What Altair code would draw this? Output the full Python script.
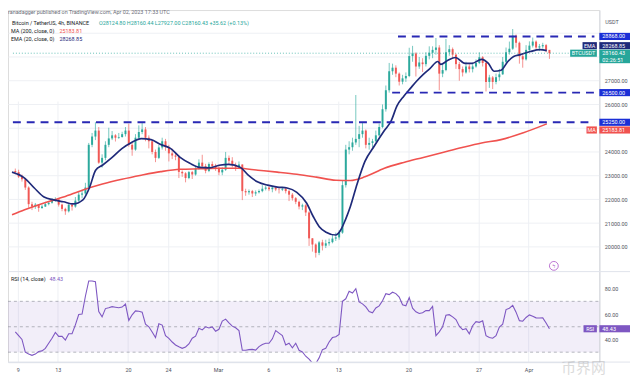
import altair as alt
import pandas as pd

FONT = "Roboto"

# ---------------- data (8h candles, Feb 8 08:00 -> Apr 2 16:00 UTC) ----------------
first_open = 23200
close = [23150, 22960,
         22850, 22500, 21800, 21700, 21780, 21640, 21700, 21800, 21860, 21950, 22000, 21780,
         21600, 21500, 21780, 21700, 21950, 22200, 22250, 22500, 24300, 24650, 24900, 23550,
         23750, 24300, 24570, 24700, 24600, 24630, 24750, 24900, 24300, 24100, 24600, 24840,
         24950, 24600, 24450, 24000, 23750, 24190, 24450, 24200, 23940, 23850, 23800, 23160,
         23100, 22900, 23150, 23050, 23300, 23550, 23400, 23200, 23490, 23400, 23300, 23140,
         23250, 23750, 23630, 23450, 23350, 23470, 22350, 22300, 22350, 22250, 22300, 22350,
         22450, 22500, 22430, 22500, 22420, 22410, 22450, 22350, 22200, 22050, 21900, 21700,
         21750, 21450, 20360, 20100, 19750, 20190, 20050, 20150, 20200, 20350, 20400, 20600,
         22600, 24100, 24200, 24400, 24550, 24750, 24900, 24300, 24380, 24450, 24700, 25050,
         25800, 26600, 27400, 27550, 27300, 26960, 27100, 27200, 28040, 28150, 27600, 27770,
         27700, 28050, 28180, 28300, 28400, 27300, 27450, 28200, 28330, 28100, 27700, 27490,
         27350, 27600, 27490, 27600, 27750, 27990, 27750, 26950, 27140, 26950, 27150, 27270,
         27800, 28200, 28350, 28900, 28600, 28030, 27900, 28300, 28480, 28650, 28400, 28450,
         28500, 28300, 28160]
high = [23300, 23250,
        23050, 22900, 22550, 21900, 21850, 21800, 21780, 21900, 21920, 22050, 22090, 22020,
        21820, 21650, 21850, 21850, 22100, 22320, 22400, 22700, 24380, 24800, 25250, 25050,
        23900, 24450, 25020, 24880, 24750, 24800, 24850, 25050, 25190, 24400, 24750, 25120,
        25250, 25050, 24700, 24480, 24100, 24300, 24600, 24550, 24300, 24140, 23950, 23850,
        23220, 23150, 23200, 23200, 23400, 23690, 23880, 23500, 23560, 23600, 23500, 23400,
        23350, 24000, 23850, 23780, 23550, 23600, 23480, 22450, 22420, 22400, 22380, 22420,
        22600, 22580, 22550, 22560, 22550, 22500, 22530, 22480, 22400, 22270, 22100, 21950,
        21820, 21800, 21500, 20370, 20150, 20250, 20300, 20300, 20350, 20500, 20600, 20700,
        22800, 24300, 24450, 24600, 26400, 25100, 25250, 24950, 24600, 24550, 24900, 25200,
        26000, 26800, 27750, 27720, 27650, 27350, 27250, 27350, 28390, 28470, 28200, 28000,
        27950, 28200, 28450, 28450, 28800, 28500, 27700, 28760, 28500, 28400, 28150, 27800,
        27600, 27800, 27700, 27750, 27900, 28200, 28040, 27800, 27250, 27200, 27300, 27500,
        28000, 28400, 28650, 29180, 28950, 28650, 28150, 28500, 28660, 28820, 28700, 28550,
        28600, 28550, 28300]
low = [23050, 22900,
       22750, 22400, 21650, 21550, 21600, 21480, 21600, 21680, 21750, 21820, 21900, 21700,
       21500, 21350, 21450, 21530, 21650, 21900, 22050, 22150, 22450, 24200, 24500, 23500,
       23340, 23650, 24200, 24500, 24440, 24550, 24600, 24650, 24220, 23840, 24050, 24550,
       24750, 24450, 24150, 23900, 23570, 23700, 24100, 24050, 23600, 23700, 23650, 22900,
       22950, 22720, 22850, 22860, 23000, 23250, 23300, 23100, 23150, 23300, 23200, 23020,
       23020, 23200, 23450, 23350, 23200, 23300, 21970, 22150, 22200, 22100, 22150, 22250,
       22300, 22380, 22350, 22300, 22350, 22250, 22350, 22250, 21930, 21950, 21800, 21580,
       21550, 21300, 20040, 19800, 19550, 19650, 19850, 19950, 20050, 20150, 20250, 20300,
       20550, 22500, 23900, 24050, 24300, 24200, 24600, 24150, 24100, 24200, 24400, 24650,
       25000, 25700, 26500, 27250, 27150, 26800, 26850, 26950, 27150, 27800, 27180, 27500,
       27370, 27600, 27900, 27950, 28100, 26600, 27150, 27400, 28050, 27950, 27500, 27000,
       27180, 27300, 27350, 27350, 27550, 27700, 27600, 26550, 26700, 26650, 26850, 27000,
       27250, 27750, 28100, 28300, 28400, 27720, 27550, 27850, 28250, 28400, 28300, 28250,
       28350, 28200, 27920]
rsi = [46, 43, 40, 30, 28.5, 27.5, 28.5, 30.5, 31, 33,
       37, 41, 45.5, 42.4, 42.5, 39.5, 44.5, 44.5, 51.5, 59.6,
       60, 74, 86, 86, 85.4, 62, 57.8, 64.3, 65, 65.8,
       65.4, 65, 65.5, 67.8, 55, 59.4, 62.5, 62.2, 61.5, 52,
       50, 45.9, 41.5, 52.3, 51.3, 43, 40.8, 38, 35.7, 34.2,
       33, 34.1, 36.5, 41, 42.6, 48.8, 47.5, 50, 49, 49.9,
       46.5, 48, 54.5, 56, 53, 50.5, 49.2, 47, 31.5, 31.5,
       32, 32.2, 31.6, 34.4, 36, 37, 37, 40.5, 47, 45,
       43, 35.6, 37, 33.5, 37, 31.5, 30.2, 26.8, 24.5, 21.5,
       21, 25.5, 32, 33, 38, 41.5, 42.2, 44, 70, 72,
       78, 76.5, 80, 69.5, 68, 65.6, 62, 61, 64.8, 66.4,
       70.5, 76, 75.3, 77.2, 76.1, 73.4, 67.3, 66.5, 73, 64.6,
       61.8, 60.4, 61, 62.7, 62.7, 66, 43, 46, 50, 59,
       59.5, 57.8, 55.7, 50.5, 47.7, 48.5, 44.5, 50.8, 54, 53.5,
       54.7, 43, 41.5, 41, 43, 49.7, 52, 63.5, 64.6, 66.8,
       61.5, 54.8, 54.4, 57.3, 59.3, 58.2, 57, 56.9, 57, 53,
       48.43]

# indicator lines (days since Mar 1 00:00 UTC, value)
ema_day = [-20.58, -19.32, -18.35, -17.38, -16.41, -15.44, -14.47, -13.50, -12.82, -12.23,
           -11.55, -10.58, -9.61, -8.64, -7.67, -6.70, -5.73, -4.76, -3.79, -2.82,
           -1.84, -0.87, 0.10, 1.07, 2.23, 3.01, 3.98, 4.95, 5.92, 6.89,
           7.86, 8.83, 9.51, 10.10, 10.78, 11.75, 12.23, 12.72, 13.20, 13.88,
           14.66, 15.63, 16.60, 17.28, 17.86, 18.54, 19.22, 19.81, 20.49, 21.17,
           21.94, 22.23, 22.91, 23.69, 24.66, 25.34, 26.31, 26.99, 27.57, 28.25,
           28.93, 29.51, 30.19, 31.17, 32.14, 32.82]
ema_val = [23150, 22900, 22480, 22100, 21980, 21900, 21810, 21980, 22520, 23230,
           23440, 23770, 24140, 24400, 24560, 24520, 24310, 24150, 23770, 23520,
           23350, 23330, 23440, 23480, 23350, 23020, 22730, 22600, 22520, 22480,
           22300, 21850, 21270, 20850, 20620, 20500, 20700, 21150, 21690, 22650,
           23600, 24270, 24900, 25310, 25940, 26350, 26690, 26980, 27270, 27520,
           27810, 27690, 27850, 27980, 27730, 27730, 27900, 27730, 27400, 27440,
           27810, 28020, 28100, 28230, 28310, 28268.85]
ma_day = [-20.58, -19.32, -17.38, -15.44, -13.50, -11.55, -9.61, -7.67, -5.73, -3.79,
          -1.84, 0.10, 2.04, 3.98, 5.92, 7.86, 9.81, 11.75, 13.20, 14.66,
          16.60, 18.54, 20.49, 22.43, 24.37, 26.31, 28.25, 30.49, 32.82]
ma_val = [21350, 21560, 21850, 22100, 22400, 22650, 22850, 23020, 23170, 23270,
          23290, 23310, 23310, 23230, 23150, 23060, 22940, 22810, 22800, 22950,
          23310, 23560, 23770, 23980, 24190, 24380, 24520, 24810, 25183.81]

tick_day = [-20, -16, -9, -5, 0, 5, 12, 19, 26, 31]
tick_text = ["9", "13", "20", "24", "Mar", "6", "13", "20", "27", "Apr"]
price_grid = [20000, 21000, 22000, 23000, 24000, 25000, 26000, 27000, 28000, 29000]
price_hidden = [25000, 28000, 29000]
rsi_ticks = [40, 60, 80]
rsi_levels = [70, 50, 30]

level_price = [28868.0, 26500.0, 25250.0]
level_from_day = [17.96, 17.38, -20.49]
last_price = 28160.43

# ---------------- layout ----------------
W, H = 598, 356
X_DOM = [-20.485, 37.573]
P_DOM = [18979, 29979]
R_DOM = [22.2, 93.4]

GREEN, RED = "#26a69a", "#ef5350"
BLUE, NAVY, MA_RED, PURPLE = "#1b2fd6", "#1f2a7a", "#f0524f", "#7e57c2"
GRID = "#eef0f4"

n = len(close)
df = pd.DataFrame({
    "t": [-20.25 + i / 3 for i in range(n)],
    "open": [first_open] + close[:-1],
    "close": close, "high": high, "low": low, "rsi": rsi,
})

xs = alt.Scale(domain=X_DOM, nice=False, zero=False)
ps = alt.Scale(domain=P_DOM, range=[264, 0], nice=False, zero=False)
rs = alt.Scale(domain=R_DOM, range=[356, 264.5], nice=False, zero=False)

x_expr = " : ".join(f"datum.value == {d} ? '{s}'" for d, s in zip(tick_day, tick_text)) + " : ''"
x_axis = alt.Axis(values=tick_day, labelExpr=x_expr, grid=True, gridColor=GRID, ticks=False,
                  domain=True, domainColor="#e0e3eb", labelFontSize=5.5, labelColor="#50535e",
                  labelPadding=6, title=None, labelFont=FONT)
hidden = ",".join(str(v) for v in price_hidden)
p_axis = alt.Axis(orient="right", values=price_grid,
                  labelExpr=f"indexof([{hidden}], datum.value) >= 0 ? '' : format(datum.value, '.2f')",
                  grid=True, gridColor=GRID, ticks=False, domain=True, domainColor="#d8dbe2",
                  labelFontSize=5.5, labelColor="#50535e", labelPadding=5, title=None, labelFont=FONT)
r_axis = alt.Axis(orient="right", values=rsi_ticks, format=".2f", grid=False, ticks=False,
                  domain=True, domainColor="#d8dbe2", labelFontSize=5.5, labelColor="#50535e",
                  labelPadding=5, title=None, labelFont=FONT)


def X(f):
    return alt.X(f, type="quantitative", scale=xs, axis=x_axis)


def YP(f):
    return alt.Y(f, type="quantitative", scale=ps, axis=p_axis)


def YR(f):
    return alt.Y(f, type="quantitative", scale=rs, axis=r_axis)


base = alt.Chart(df)
updown = alt.condition("datum.close >= datum.open", alt.value(GREEN), alt.value(RED))
wick = base.mark_rule(strokeWidth=0.7, opacity=0.9).encode(x=X("t"), y=YP("low"), y2="high", color=updown)
body = base.mark_bar(size=2.0, opacity=0.95).encode(x=X("t"), y=YP("open"), y2="close", color=updown)

ma_line = alt.Chart(pd.DataFrame({"t": ma_day, "v": ma_val})).mark_line(
    color=MA_RED, strokeWidth=1.6, interpolate="monotone", clip=True).encode(x=X("t"), y=YP("v"))
ema_line = alt.Chart(pd.DataFrame({"t": ema_day, "v": ema_val})).mark_line(
    color=NAVY, strokeWidth=1.7, interpolate="monotone", clip=True).encode(x=X("t"), y=YP("v"))

dotted = alt.Chart(pd.DataFrame({"p": [last_price], "a": [X_DOM[0]], "b": [X_DOM[1]]})).mark_rule(
    color=GREEN, strokeDash=[1, 2], strokeWidth=1, opacity=0.7).encode(x=X("a"), x2="b", y=YP("p"))
levels = alt.Chart(pd.DataFrame({"p": level_price, "a": level_from_day,
                                 "b": [X_DOM[1]] * len(level_price)})).mark_rule(
    color="#2828b4", strokeDash=[8, 6], strokeWidth=2, clip=True).encode(x=X("a"), x2="b", y=YP("p"))


def box(p, txt, col, Y, shift=0.0, half=3.6, extra=0.0, tag=None, tag_x0=None, sub=None):
    d = alt.Chart(pd.DataFrame({"p": [p], "s": [txt]}))
    out = [d.mark_rect(color=col, yOffset=shift - half, y2Offset=shift + half + extra).encode(
               x=alt.value(598), x2=alt.value(629), y=Y("p"), y2="p"),
           d.mark_text(align="left", baseline="middle", color="white", fontSize=5.5, font=FONT,
                       dy=shift).encode(x=alt.value(601), y=Y("p"), text="s:N")]
    if sub:
        out.append(alt.Chart(pd.DataFrame({"p": [p], "s": [sub]})).mark_text(
            align="left", baseline="middle", color="white", fontSize=5.5, font=FONT,
            dy=shift + 6.5).encode(x=alt.value(601), y=Y("p"), text="s:N"))
    if tag:
        t = alt.Chart(pd.DataFrame({"p": [p], "s": [tag]}))
        out.append(t.mark_rect(color=col, yOffset=shift - half, y2Offset=shift + half).encode(
            x=alt.value(tag_x0), x2=alt.value(595.5), y=Y("p"), y2="p"))
        out.append(t.mark_text(align="center", baseline="middle", color="white", fontSize=5.5,
                               font=FONT, dy=shift).encode(
            x=alt.value((tag_x0 + 595.5) / 2), y=Y("p"), text="s:N"))
    return out


price_boxes = []
price_boxes += box(28868.00, "28868.00", BLUE, YP)
price_boxes += box(28268.85, "28268.85", NAVY, YP, shift=-5.0, tag="EMA", tag_x0=581)
price_boxes += box(28160.43, "28160.43", GREEN, YP, extra=6.5, tag="BTCUSDT", tag_x0=568.5, sub="02:26:51")
price_boxes += box(26500.00, "26500.00", BLUE, YP)
price_boxes += box(25250.00, "25250.00", BLUE, YP)
price_boxes += box(25183.81, "25183.81", MA_RED, YP, shift=6.2, tag="MA", tag_x0=585)

price = alt.layer(wick, body, ma_line, ema_line, dotted, levels, *price_boxes)

band = alt.Chart(pd.DataFrame({"hi": [70], "lo": [30]})).mark_rect(color=PURPLE, opacity=0.1).encode(
    x=alt.value(0), x2=alt.value(W), y=YR("hi"), y2="lo")
rdash = alt.Chart(pd.DataFrame({"v": rsi_levels})).mark_rule(
    color="#9598a1", strokeDash=[3, 3], strokeWidth=0.7).encode(x=alt.value(0), x2=alt.value(W), y=YR("v"))
rline = base.mark_line(color=PURPLE, strokeWidth=1.1, clip=True).encode(x=X("t"), y=YR("rsi"))
rsi_boxes = box(48.43, "48.43", PURPLE, YR, tag="RSI", tag_x0=582)
rsi_layer = alt.layer(band, rdash, rline, *rsi_boxes)


def label(text, x, y, color, size=5.5, align="left", font=FONT, opacity=1.0):
    return alt.Chart(pd.DataFrame({"s": [text]})).mark_text(
        align=align, baseline="middle", color=color, fontSize=size, font=font, opacity=opacity
    ).encode(x=alt.value(x), y=alt.value(y), text="s:N")


seps = [alt.Chart(pd.DataFrame({"k": [0]})).mark_rule(color="#e0e3eb", strokeWidth=1).encode(
            x=alt.value(0), x2=alt.value(629), y=alt.value(yy)) for yy in (264.5, 356)]

texts = [
    label("ranadagger published on TradingView.com, Apr 02, 2023 17:33 UTC", 0, 2.5, "#6a6d78"),
    label("Bitcoin / TetherUS, 4h, BINANCE", 4, 12.7, "#131722"),
    label("O28124.80 H28160.44 L27927.00 C28160.43 +35.62 (+0.13%)", 92, 12.7, GREEN),
    label("MA (200, close, 0)", 3, 21.3, "#131722"),
    label("25183.81", 52, 21.3, MA_RED),
    label("EMA (20, close, 0)", 3, 29.3, "#131722"),
    label("28268.85", 52, 29.3, NAVY),
    label("USDT", 604, 12, "#50535e"),
    label("RSI (14, close)", 3, 272, "#131722"),
    label("48.43", 42, 272, PURPLE),
    label("ϟ", 552, 258.7, "#a03cc0", size=7, align="center"),
    label("币界网", 582, 362, "#9a9a9a", size=15, align="center", font="Noto Sans CJK SC", opacity=0.35),
]
icon = alt.Chart(pd.DataFrame({"k": [0]})).mark_point(
    shape="circle", size=80, filled=False, color="#a03cc0", strokeWidth=1).encode(
    x=alt.value(552), y=alt.value(258.7))

chart = alt.layer(price, rsi_layer, *seps, icon, *texts).resolve_scale(y="independent").properties(
    width=W, height=H,
    autosize=alt.AutoSizeParams(type="none"),
    padding={"left": 0, "top": 0, "right": 31, "bottom": 12},
    background="white",
).configure_view(strokeWidth=0).configure(font=FONT)

chart.save("out.html", embed_options={"renderer": "svg", "actions": False})
